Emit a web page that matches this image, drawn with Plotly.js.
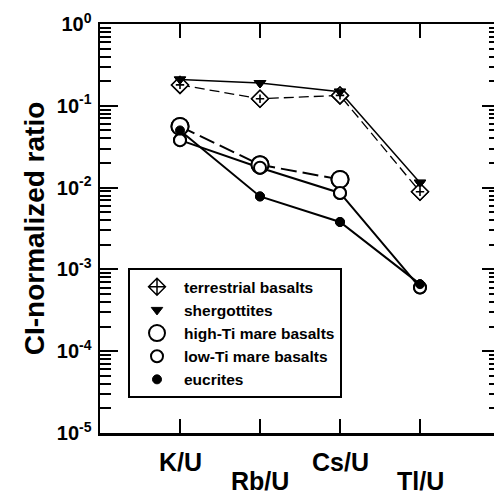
<!DOCTYPE html>
<html>
<head>
<meta charset="utf-8">
<script src="https://cdn.plot.ly/plotly-3.0.1.min.js"></script>
<style>
html,body{margin:0;padding:0;overflow:hidden;background:#fff;}
#chart{width:500px;height:494px;}
</style>
</head>
<body>
<div id="chart"></div>
<script>
// ---- data ----
const categories = ['K/U', 'Rb/U', 'Cs/U', 'Tl/U'];
const terrestrialBasalts = [0.18, 0.122, 0.134, 0.0089];
const shergottites = [0.21, 0.19, 0.149, 0.0115];
const highTiMareBasalts = [0.056, 0.019, 0.0126, null];
const lowTiMareBasalts = [0.038, 0.0175, 0.0086, 0.0006];
const eucrites = [0.050, 0.0078, 0.0038, 0.00066];
const seriesNames = ['terrestrial basalts', 'shergottites', 'high-Ti mare basalts', 'low-Ti mare basalts', 'eucrites'];
const yTickVals = [1e-5, 1e-4, 1e-3, 1e-2, 1e-1, 1];
const yTickText = ['10<sup>-5</sup>', '10<sup>-4</sup>', '10<sup>-3</sup>', '10<sup>-2</sup>', '10<sup>-1</sup>', '10<sup>0</sup>'];

const FONT = 'Liberation Sans, Arial, Helvetica, sans-serif';

// minor log ticks 2..9 in each decade
const minorTicks = [];
yTickVals.slice(0, -1).forEach(d => { for (let m = 2; m <= 9; m++) minorTicks.push(d * m); });

const series = [
  {y: terrestrialBasalts, name: seriesNames[0], dash: '10px,5px', lw: 1.3,
   marker: {symbol: 'diamond', size: 13, color: '#fff', line: {color: '#000', width: 1.5}},
   legendMarker: {symbol: 'diamond-cross', size: 13, color: '#fff', line: {color: '#000', width: 1.5}}},
  {y: shergottites, name: seriesNames[1], dash: 'solid', lw: 1.5,
   marker: {symbol: 'triangle-down', size: 10, color: '#000', line: {color: '#000', width: 1}}},
  {y: highTiMareBasalts, name: seriesNames[2], dash: '16px,6px', lw: 2,
   marker: {symbol: 'circle', size: 17, color: '#fff', line: {color: '#000', width: 2}}},
  {y: lowTiMareBasalts, name: seriesNames[3], dash: 'solid', lw: 2,
   marker: {symbol: 'circle', size: 12, color: '#fff', line: {color: '#000', width: 2}}},
  {y: eucrites, name: seriesNames[4], dash: 'solid', lw: 2,
   marker: {symbol: 'circle', size: 9, color: '#000', line: {color: '#000', width: 1}}}
];

const traces = [];
// connecting lines (no legend)
series.forEach(s => {
  traces.push({x: categories, y: s.y, type: 'scatter', mode: 'lines', showlegend: false,
    connectgaps: false, line: {color: '#000', width: s.lw, dash: s.dash}, hoverinfo: 'skip'});
});
// legend-carrying marker traces (drawn underneath the plot markers)
series.forEach(s => {
  traces.push({x: categories, y: s.y, type: 'scatter', mode: 'markers', name: s.name,
    showlegend: true, marker: s.legendMarker || s.marker});
});
// plot markers on top
series.forEach(s => {
  traces.push({x: categories, y: s.y, type: 'scatter', mode: 'markers', name: s.name,
    showlegend: false, marker: s.marker});
});
// small plus inside the terrestrial diamonds
traces.push({x: categories, y: terrestrialBasalts, type: 'scatter', mode: 'markers', showlegend: false,
  marker: {symbol: 'cross-thin', size: 6, color: '#000', line: {color: '#000', width: 1.6}}});

const annotations = categories.map((c, i) => ({
  x: c, xref: 'x', y: i % 2 === 0 ? -0.071 : -0.117, yref: 'paper',
  text: c, showarrow: false, xanchor: 'center', yanchor: 'middle',
  font: {family: FONT, size: 25, color: '#000', weight: 'bold'}
}));

const layout = {
  width: 500, height: 494,
  margin: {l: 100, r: 0, t: 24, b: 61},
  paper_bgcolor: '#fff', plot_bgcolor: '#fff',
  font: {family: FONT, color: '#000'},
  showlegend: true,
  legend: {
    x: 0.07, y: 0.403, xanchor: 'left', yanchor: 'top',
    bgcolor: '#fff', bordercolor: '#000', borderwidth: 2,
    font: {family: FONT, size: 15.5, color: '#000', weight: 'bold'},
    itemsizing: 'trace', itemwidth: 44, tracegroupgap: 0
  },
  xaxis: {
    type: 'category', categoryorder: 'array', categoryarray: categories,
    range: [-1, 4], showline: true, linecolor: '#000', linewidth: 2.5,
    mirror: 'ticks', ticks: 'inside', ticklen: 14, tickwidth: 2, tickcolor: '#000',
    showticklabels: false, showgrid: false, zeroline: false, fixedrange: true
  },
  yaxis: {
    type: 'log', range: [-5, 0], showline: true, linecolor: '#000', linewidth: 2.5,
    mirror: 'ticks', ticks: 'inside', ticklen: 18, tickwidth: 2, tickcolor: '#000',
    tickmode: 'array', tickvals: yTickVals, ticktext: yTickText, ticklabelstandoff: 2,
    tickfont: {family: FONT, size: 20, color: '#000', weight: 'bold'},
    minor: {tickmode: 'array', tickvals: minorTicks, ticks: 'inside', ticklen: 11, tickwidth: 2,
      tickcolor: '#000', showgrid: false},
    showgrid: false, zeroline: false, fixedrange: true,
    title: {text: 'CI-normalized ratio', standoff: 4,
      font: {family: FONT, size: 28, color: '#000', weight: 'bold'}}
  },
  annotations: annotations
};

Plotly.newPlot('chart', traces, layout, {staticPlot: true, displayModeBar: false});
</script>
</body>
</html>
